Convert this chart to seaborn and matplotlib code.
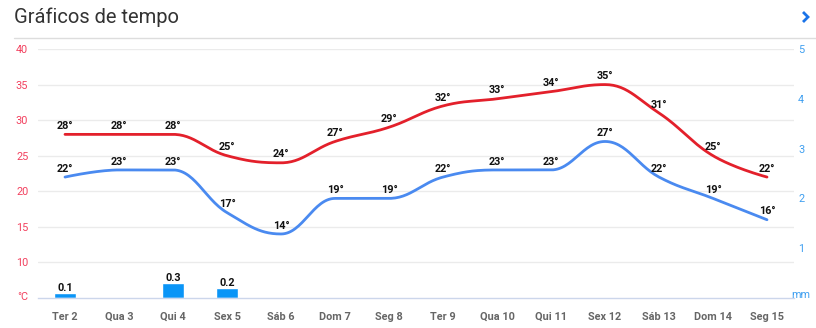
import numpy as np
import pandas as pd
import matplotlib
matplotlib.use("Agg")
import matplotlib.pyplot as plt
import seaborn as sns

days = ["Ter 2", "Qua 3", "Qui 4", "Sex 5", "Sáb 6", "Dom 7", "Seg 8",
        "Ter 9", "Qua 10", "Qui 11", "Sex 12", "Sáb 13", "Dom 14", "Seg 15"]
t_max = [28, 28, 28, 25, 24, 27, 29, 32, 33, 34, 35, 31, 25, 22]
t_min = [22, 23, 23, 17, 14, 19, 19, 22, 23, 23, 27, 22, 19, 16]
precip = [0.1, 0, 0.3, 0.2, 0, 0, 0, 0, 0, 0, 0, 0, 0, 0]
temp_ticks = [10, 15, 20, 25, 30, 35, 40]
mm_ticks = [1, 2, 3, 4, 5]

RED = "#e3202b"
BLUE = "#4a8af0"
BAR = "#0a95f7"

sns.set_theme(style="white")
plt.rcParams["font.family"] = ["Roboto", "DejaVu Sans"]


def spline_path(ys, n=30):
    """Highcharts-style spline through (i, y) points, returned as dense samples."""
    xs = np.arange(len(ys), dtype=float)
    ys = np.asarray(ys, dtype=float)
    N = len(ys)
    lc = [None] * N
    rc = [None] * N
    sm, den = 1.5, 2.5
    for i in range(1, N - 1):
        px, py = xs[i], ys[i]
        lx, ly = xs[i - 1], ys[i - 1]
        nx, ny = xs[i + 1], ys[i + 1]
        lcx = (sm * px + lx) / den
        lcy = (sm * py + ly) / den
        rcx = (sm * px + nx) / den
        rcy = (sm * py + ny) / den
        corr = ((rcy - lcy) * (rcx - px)) / (rcx - lcx) + py - rcy
        lcy += corr
        rcy += corr
        if lcy > ly and lcy > py:
            lcy = max(ly, py); rcy = 2 * py - lcy
        elif lcy < ly and lcy < py:
            lcy = min(ly, py); rcy = 2 * py - lcy
        if rcy > ny and rcy > py:
            rcy = max(ny, py); lcy = 2 * py - rcy
        elif rcy < ny and rcy < py:
            rcy = min(ny, py); lcy = 2 * py - rcy
        lc[i] = (lcx, lcy)
        rc[i] = (rcx, rcy)
    outx, outy = [xs[0]], [ys[0]]
    t = np.linspace(0, 1, n)[1:]
    for i in range(1, N):
        p0 = (xs[i - 1], ys[i - 1])
        p1 = rc[i - 1] if rc[i - 1] is not None else p0
        p3 = (xs[i], ys[i])
        p2 = lc[i] if lc[i] is not None else p3
        for k in range(2):
            v = ((1 - t) ** 3 * p0[k] + 3 * (1 - t) ** 2 * t * p1[k]
                 + 3 * (1 - t) * t ** 2 * p2[k] + t ** 3 * p3[k])
            (outx if k == 0 else outy).extend(v)
    return np.array(outx), np.array(outy)


fig = plt.figure(figsize=(8.16, 3.28), dpi=100)
ax = fig.add_axes([38 / 816, 1 - 298 / 328, 756 / 816, (298 - 49) / 328])
ax2 = ax.twinx()

# precipitation bars on mm axis
dfp = pd.DataFrame({"day": days, "mm": precip})
sns.barplot(data=dfp, x="day", y="mm", order=days, width=0.4, color=BAR,
            saturation=1, ax=ax2, zorder=2)
for i, v in enumerate(precip):
    if v > 0:
        ax2.annotate(f"{v:.1f}", (i, v), xytext=(0, 3.8), textcoords="offset points",
                     ha="center", va="center", fontsize=7.8, fontweight="bold", color="#111")

# temperature lines
for vals, col in [(t_max, RED), (t_min, BLUE)]:
    sx, sy = spline_path(vals)
    sns.lineplot(x=sx, y=sy, sort=False, estimator=None, color=col, lw=2, ax=ax, zorder=3)
    for i, v in enumerate(vals):
        ax.annotate(f"{v}°", (i, v), xytext=(0, 6), textcoords="offset points",
                    ha="center", va="center", fontsize=7.8, fontweight="bold", color="#111",
                    zorder=5)

ax.set_xlim(-0.5, len(days) - 0.5)
ax.set_ylim(5, 40)
ax2.set_ylim(0, 5)
ax.set_xticks(range(len(days)))
ax.set_xticklabels(days, fontsize=7.8, fontweight="bold", color="#666")
ax2.set_xticks(range(len(days)))
ax2.set_xticklabels(days)
ax.set_xlabel("")
ax2.set_xlabel("")
ax.set_ylabel("")
ax2.set_ylabel("")

ax.set_yticks([5.35] + temp_ticks)
ax.set_yticklabels(["°C"] + [str(v) for v in temp_ticks], fontsize=7.8, color="#f2405e")
ax2.set_yticks(mm_ticks)
ax2.set_yticklabels([str(v) for v in mm_ticks], fontsize=7.8, color="#3f9ff0")
fig.text(791 / 816, 1 - 295.5 / 328, "mm", fontsize=7.8, color="#3f9ff0",
         ha="left", va="center")

ax.tick_params(axis="y", length=0, pad=7)
ax2.tick_params(axis="y", length=0, pad=3)
ax.tick_params(axis="x", length=5, width=1, color="#ccd6eb", pad=5, direction="out")
ax2.tick_params(axis="x", length=0, labelbottom=False)

for a in (ax, ax2):
    for s in a.spines.values():
        s.set_visible(False)
ax.spines["bottom"].set_visible(True)
ax.spines["bottom"].set_color("#ccd6eb")
ax.spines["bottom"].set_linewidth(1)

for v in temp_ticks:
    ax.axhline(v, color="#ebebeb", lw=1, zorder=0)

ax.set_zorder(ax2.get_zorder() + 1)
ax.patch.set_visible(False)

# header
fig.text(14 / 816, 1 - 17 / 328, "Gráficos de tempo", fontsize=14.5, color="#333",
         ha="left", va="center")
fig.add_artist(plt.Line2D([14 / 816, 1], [1 - 38 / 328, 1 - 38 / 328], color="#dddddd", lw=1))
fig.add_artist(plt.Line2D([803 / 816, 808 / 816, 803 / 816],
                          [1 - 12 / 328, 1 - 17 / 328, 1 - 22 / 328],
                          color="#1a73e8", lw=2, solid_capstyle="butt", solid_joinstyle="miter"))

fig.savefig("out.png", dpi=100, facecolor="white")
